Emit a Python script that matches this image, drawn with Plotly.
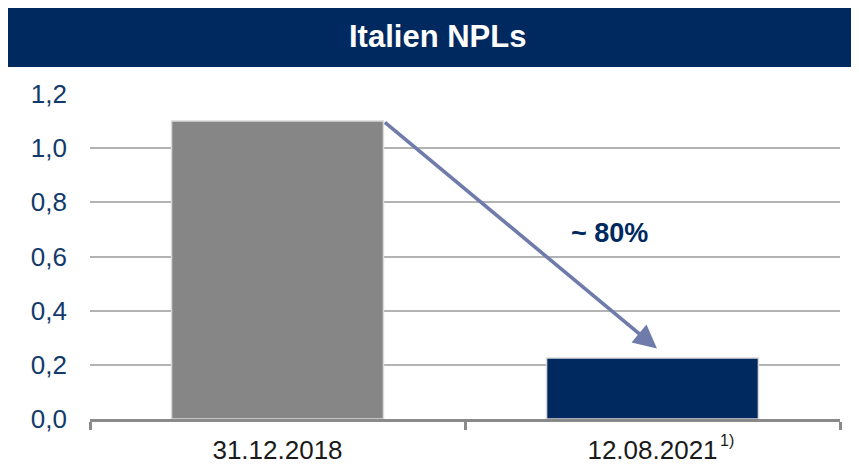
import plotly.graph_objects as go

categories = ["31.12.2018", "12.08.2021"]
values = [1.1, 0.225]
bar_colors = ["#868686", "#002960"]
y_ticks = [0.0, 0.2, 0.4, 0.6, 0.8, 1.0, 1.2]
y_tick_labels = ["0,0", "0,2", "0,4", "0,6", "0,8", "1,0", "1,2"]

NAVY = "#002960"

fig = go.Figure()

fig.add_trace(
    go.Bar(
        x=categories,
        y=values,
        marker=dict(color=bar_colors, line=dict(color="#d9d9d9", width=1.5)),
        width=0.565,
        showlegend=False,
    )
)

# header band
fig.add_shape(
    type="rect",
    xref="paper", yref="paper",
    x0=-0.111, x1=1.03, y0=1.083, y1=1.3,
    fillcolor=NAVY, line=dict(width=0), layer="below",
)
fig.add_annotation(
    text="<b>Italien NPLs</b>",
    xref="paper", yref="paper", x=0.4627, y=1.178,
    xanchor="center", yanchor="middle",
    showarrow=False,
    font=dict(family="Liberation Sans, Arial", size=31, color="white"),
)

# reduction arrow
fig.add_annotation(
    x=1.012, y=0.26, xref="x", yref="y",
    ax=0.2825, ay=values[0], axref="x", ayref="y",
    showarrow=True, arrowhead=2, arrowsize=1.3, arrowwidth=3.6,
    arrowcolor="#6f7bab", text="",
)
fig.add_annotation(
    text="<b>~ 80%</b>",
    x=0.885, y=0.685, xref="x", yref="y",
    xanchor="center", yanchor="middle",
    showarrow=False,
    font=dict(family="Liberation Sans, Arial", size=27, color=NAVY),
)

# footnote marker on second label
fig.add_annotation(
    text="1)",
    x=1, y=0, xref="x", yref="paper",
    xanchor="center", yanchor="middle",
    xshift=74, yshift=-21,
    showarrow=False,
    font=dict(family="Liberation Sans, Arial", size=16, color="#1a1a1a"),
)

# the page body adds an 8px offset, so the figure is sized 8px smaller
fig.update_layout(
    width=851,
    height=461,
    margin=dict(l=82, r=19, t=86, b=50),
    plot_bgcolor="white",
    paper_bgcolor="white",
    font=dict(family="Liberation Sans, Arial"),
    bargap=0.435,
)

fig.update_yaxes(
    range=[0, 1.2],
    tickvals=y_ticks,
    ticktext=y_tick_labels,
    showgrid=True,
    gridcolor="#b3b3b3",
    gridwidth=2,
    zeroline=False,
    showline=False,
    ticks="",
    ticklabelstandoff=22,
    tickfont=dict(size=26, color="#123a6b"),
    automargin=False,
)

fig.update_xaxes(
    showline=True,
    linecolor="#8a8a8a",
    linewidth=3,
    ticks="outside",
    tickson="boundaries",
    ticklen=8,
    tickwidth=3,
    tickcolor="#8a8a8a",
    ticklabelstandoff=6,
    tickfont=dict(size=26, color="#1a1a1a"),
    automargin=False,
)

fig.write_html("out.html")
